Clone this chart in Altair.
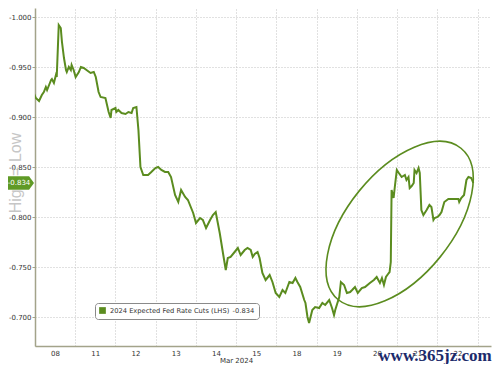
import altair as alt
import pandas as pd

# ---------------- data ----------------
day_labels = ["08", "11", "12", "13", "14", "15", "18", "19", "20", "21", "22"]
month_title = "Mar 2024"
series_name = "2024 Expected Fed Rate Cuts (LHS)\u2002-0.834"
last_value = -0.834
y_ticks = [-1.0, -0.95, -0.9, -0.85, -0.8, -0.75, -0.7]
axis_title = "High = Low"
watermark = "www.365jz.com"

# trading-day position (0 = start of 08 Mar, 1 = start of 11 Mar, ...)
t_vals = [
    -0.05, -0.02, 0.02, 0.10, 0.17, 0.22, 0.27, 0.30, 0.35, 0.40,
    0.42, 0.47, 0.52, 0.54, 0.59, 0.64, 0.67, 0.72, 0.77, 0.79,
    0.84, 0.89, 0.91, 0.96,
    1.01, 1.09, 1.14, 1.21, 1.28, 1.38, 1.46, 1.51, 1.58, 1.63,
    1.75, 1.83, 1.88, 1.90,
    2.00, 2.02, 2.07, 2.15, 2.25, 2.32, 2.40, 2.44, 2.52, 2.57,
    2.62, 2.69, 2.81, 2.89, 2.99,
    3.06, 3.14, 3.23, 3.31, 3.38, 3.48, 3.56, 3.63, 3.73, 3.80,
    3.93,
    4.00, 4.10, 4.17, 4.25, 4.35, 4.42, 4.49, 4.59, 4.67, 4.74,
    4.79, 4.86, 4.96,
    5.04, 5.11, 5.21, 5.28, 5.36, 5.41, 5.46, 5.53, 5.58, 5.65,
    5.73, 5.83, 5.90, 5.98,
    6.07, 6.15, 6.22, 6.32, 6.40, 6.47, 6.52, 6.59, 6.69, 6.72,
    6.77, 6.81, 6.89, 6.96,
    7.06, 7.14, 7.21, 7.31, 7.38, 7.43, 7.46, 7.56, 7.60, 7.68,
    7.75, 7.83, 7.88, 7.95,
    8.02, 8.12, 8.20, 8.32, 8.42, 8.49, 8.57, 8.62, 8.67, 8.72,
    8.79, 8.81, 8.84, 8.86, 8.91, 8.94, 8.99,
    9.04, 9.11, 9.19, 9.23, 9.28, 9.31, 9.36, 9.41, 9.43, 9.48,
    9.53, 9.56, 9.60, 9.65, 9.73, 9.80, 9.85, 9.90, 9.93,
    10.00, 10.05, 10.10, 10.17, 10.27, 10.40, 10.52, 10.54, 10.59, 10.66,
    10.68, 10.72, 10.77, 10.84, 10.89,
]
rate_cuts = [
    -0.924, -0.923, -0.919, -0.916, -0.922, -0.925, -0.930, -0.927, -0.932, -0.937,
    -0.938, -0.934, -0.942, -0.940, -0.992, -0.989, -0.975, -0.959, -0.947, -0.945,
    -0.950, -0.947, -0.952, -0.947,
    -0.940, -0.945, -0.950, -0.949, -0.947, -0.944, -0.945, -0.940, -0.925, -0.920,
    -0.919, -0.905, -0.899, -0.907,
    -0.909, -0.905, -0.907, -0.904, -0.903, -0.905, -0.904, -0.909, -0.910, -0.887,
    -0.850, -0.842, -0.842, -0.845, -0.849,
    -0.850, -0.847, -0.845, -0.845, -0.840, -0.822, -0.815, -0.827, -0.820, -0.817,
    -0.804,
    -0.794, -0.799, -0.797, -0.789, -0.797, -0.802, -0.805, -0.784, -0.764, -0.747,
    -0.759, -0.760, -0.765,
    -0.769, -0.762, -0.767, -0.769, -0.767, -0.760, -0.763, -0.765, -0.759, -0.744,
    -0.737, -0.742, -0.735, -0.724,
    -0.720, -0.727, -0.724, -0.735, -0.734, -0.739, -0.735, -0.730, -0.717, -0.714,
    -0.700, -0.694, -0.707, -0.710,
    -0.709, -0.714, -0.712, -0.717, -0.709, -0.702, -0.707, -0.720, -0.735, -0.732,
    -0.724, -0.725, -0.727, -0.730,
    -0.724, -0.729, -0.730, -0.734, -0.737, -0.740, -0.734, -0.739, -0.732, -0.740,
    -0.744, -0.745, -0.755, -0.827, -0.819, -0.830, -0.847,
    -0.844, -0.840, -0.842, -0.837, -0.840, -0.829, -0.831, -0.834, -0.847, -0.844,
    -0.849, -0.844, -0.807, -0.802, -0.807, -0.812, -0.810, -0.797, -0.799,
    -0.800, -0.802, -0.805, -0.815, -0.818, -0.818, -0.818, -0.815, -0.819, -0.822,
    -0.827, -0.837, -0.840, -0.839, -0.834,
]
ellipse_center = [9.06, -0.793]

# ---------------- styling ----------------
GREEN = "#5b8c1f"
TAG_GREEN = "#5f9a26"
GRID = "#c2c2c2"
AXIS = "#a3a38a"
FONT = "DejaVu Sans"

df = pd.DataFrame({"t": t_vals, "v": rate_cuts, "series": series_name})

x_scale = alt.Scale(domain=[0.0, 11.33], nice=False, zero=False)
y_scale = alt.Scale(domain=[-1.009, -0.671], nice=False, zero=False, reverse=True)

label_expr = "[" + ",".join("'%s'" % d for d in day_labels) + "][datum.value] || ''"

x_axis = alt.Axis(
    values=list(range(12)), labelExpr=label_expr, labelOffset=20, ticks=False,
    grid=True, gridDash=[1, 2], gridColor=GRID, domainColor=AXIS, domainWidth=1.5,
    labelFontSize=7, labelColor="#333333", labelFont=FONT, labelPadding=3,
    labelOverlap=False, labelFlush=False, labelBound=False,
    title=month_title, titleFontSize=7, titleFontWeight="normal", titleFont=FONT,
    titleColor="#333333", titlePadding=0, titleX=201,
)
y_axis = alt.Axis(
    values=y_ticks,
    labelExpr="replace(format(datum.value, '.3f'), '\u2212', '-')",
    grid=True, gridDash=[1, 2], gridColor=GRID, domainColor=AXIS, domainWidth=1.5,
    tickColor=AXIS, tickSize=3, labelPadding=1, labelFontSize=7,
    labelColor="#333333", labelFont=FONT, title=None,
)

X = alt.X("t:Q", scale=x_scale, axis=x_axis)
Y = alt.Y("v:Q", scale=y_scale, axis=y_axis)

line = alt.Chart(df).mark_line(strokeWidth=2, clip=True).encode(
    x=X,
    y=Y,
    color=alt.Color(
        "series:N",
        scale=alt.Scale(range=[GREEN]),
        legend=alt.Legend(
            orient="none", legendX=60, legendY=295, title=None,
            fillColor="white", strokeColor="#8a8a8a", cornerRadius=3, padding=4,
            symbolType="square", symbolSize=45, symbolFillColor=GREEN,
            symbolStrokeColor=GREEN, symbolStrokeWidth=0,
            labelFontSize=6.7, labelFont=FONT, labelColor="#333333", labelLimit=400,
        ),
    ),
)

ELLIPSE = ("M 1 0 C 1 0.296 0.552 0.536 0 0.536 C -0.552 0.536 -1 0.296 -1 0 "
           "C -1 -0.296 -0.552 -0.536 0 -0.536 C 0.552 -0.536 1 -0.296 1 0 Z")
ellipse = alt.Chart(pd.DataFrame({"t": [ellipse_center[0]], "v": [ellipse_center[1]]})).mark_point(
    shape=ELLIPSE, size=38000, filled=False, stroke=GREEN, strokeWidth=1.6,
    angle=309, opacity=1,
).encode(x=X, y=Y)

one = alt.Data(values=[{}])

title_txt = alt.Chart(one).mark_text(
    text=axis_title, angle=270, fontSize=16, font="Liberation Sans",
    color="#c6c6c6", align="center", baseline="middle",
).encode(x=alt.value(-19), y=alt.value(165))

TAG = "M -1 -0.52 L 0.62 -0.52 L 1 0 L 0.62 0.52 L -1 0.52 Z"
tag = alt.Chart(one).mark_point(
    shape=TAG, size=676, filled=True, color=TAG_GREEN, opacity=1, strokeWidth=0,
).encode(x=alt.value(-14), y=alt.YDatum(last_value, axis=y_axis))

tag_txt = alt.Chart(one).mark_text(
    text="%.3f" % last_value, fontSize=7, font=FONT, color="white",
    align="center", baseline="middle",
).encode(x=alt.value(-16), y=alt.YDatum(last_value, axis=y_axis))

wm = alt.Chart(one).mark_text(
    text=watermark, font="Liberation Serif", fontWeight="bold", fontSize=17,
    color="#1c2b6b", align="center", baseline="alphabetic",
).encode(x=alt.value(400), y=alt.value(353))

chart = alt.layer(line, ellipse, title_txt, tag, tag_txt, wm).properties(
    width=456, height=338, background="white",
    autosize=alt.AutoSizeParams(type="none"),
    padding={"left": 27, "top": 0, "right": 1, "bottom": 18},
).configure_view(stroke=None)

chart.save("out.html", embed_options={"renderer": "svg", "actions": False})
